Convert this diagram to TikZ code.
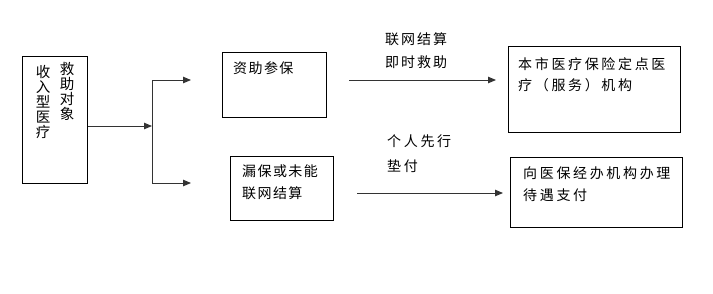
\documentclass[tikz,border=0pt]{standalone}
\usepackage{fontspec}
\setmainfont{Noto Sans CJK SC}
\newfontfamily\cjka[LetterSpace=10]{Noto Sans CJK SC}
\newfontfamily\cjkc[LetterSpace=14]{Noto Sans CJK SC}
\newfontfamily\cjkb[LetterSpace=19]{Noto Sans CJK SC}
\usetikzlibrary{arrows.meta}
\begin{document}
\begin{tikzpicture}[x=1pt,y=-1pt,
  box/.style={draw, line width=0.8pt, inner sep=0pt, anchor=north west},
  txt/.style={font=\fontsize{14}{21.5}\selectfont\cjka, align=left, inner sep=0pt, anchor=west},
  ltxt/.style={font=\fontsize{14}{23}\selectfont\cjkc, align=left, inner sep=0pt, anchor=west},
  wtxt/.style={font=\fontsize{14}{21.5}\selectfont\cjkb, align=left, inner sep=0pt, anchor=west},
  vtxt/.style={font=\fontsize{14.5}{15}\selectfont, align=center, inner sep=0pt, anchor=north},
  arr/.style={-{Triangle[length=8pt,width=6.5pt]}, line width=0.9pt, draw=black!80},
  ln/.style={line width=0.9pt, draw=black!80}]
\useasboundingbox (0,0) rectangle (713,293);
% left box
\node[box, minimum width=65pt, minimum height=127pt] (src) at (22,56) {};
\node[vtxt] (colr) at (67,62) {救\\助\\对\\象};
\node[vtxt] (coll) at (43,65) {收\\入\\型\\医\\疗};
% junction
\coordinate (j) at (152,126);
\coordinate (jt) at (152,80);
\coordinate (jb) at (152,183);
\coordinate (et) at (191,80);
\coordinate (eb) at (191,183);
\draw[arr] (src.east |- j) -- (j);
\draw[ln] (jt) -- (jb);
\draw[arr] (jt) -- (et);
\draw[arr] (jb) -- (eb);
% top row
\node[box, minimum width=104pt, minimum height=65pt] (mt) at (222,52) {};
\node[txt] (mtt) at (233,68) {资助参保};
\coordinate (as1) at (349,80);
\coordinate (ae1) at (496,80);
\draw[arr] (as1) -- (ae1);
\node[ltxt, anchor=north west] (l1) at (385,32) {联网结算\\即时救助};
\node[box, minimum width=172pt, minimum height=86pt] (rt) at (508,46) {};
\node[wtxt, anchor=north west] (rtt) at (518,57) {本市医疗保险定点医\\疗（服务）机构};
% bottom row
\node[box, minimum width=103pt, minimum height=64pt] (mb) at (230,156) {};
\node[txt, anchor=north west] (mbt) at (242,165) {漏保或未能\\联网结算};
\coordinate (as2) at (357,193);
\coordinate (ae2) at (503,193);
\draw[arr] (as2) -- (ae2);
\node[wtxt, anchor=north west, font=\fontsize{14}{24.5}\selectfont\cjkb] (l3) at (387,135) {个人先行\\垫付};
\node[box, minimum width=172pt, minimum height=70pt] (rb) at (510,157) {};
\node[wtxt, anchor=north west] (rbt) at (523,167) {向医保经办机构办理\\待遇支付};
\end{tikzpicture}
\end{document}
